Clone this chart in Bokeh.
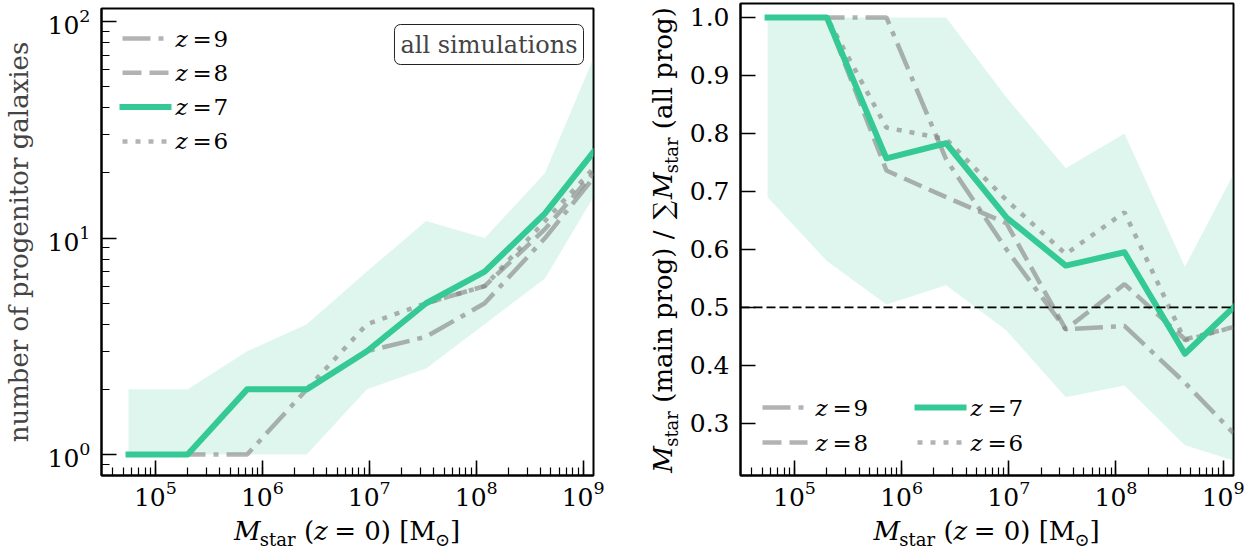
import math
from bokeh.plotting import figure
from bokeh.models import (Range1d, LogTicker, FixedTicker, PrintfTickFormatter,
                          Label, Arrow, Span)
from bokeh.layouts import row, column
from bokeh.embed import file_html
from bokeh.resources import INLINE

# ---------------- data ----------------
mstar = [5.6e4, 2.0e5, 7.2e5, 2.6e6, 9.5e6, 3.4e7, 1.2e8, 4.4e8, 1.25e9]

nprog_z9 = [1, 1, 1, 2, 3, 3.5, 5, 10, 19]
nprog_z8 = [1, 1, 2, 2, 3, 5, 6, 11, 20]
nprog_z7 = [1, 1, 2, 2, 3, 5, 7, 13, 25]
nprog_z6 = [1, 1, 2, 2, 4, 5, 6, 12, 21]
nprog_lo = [1, 1, 1, 1, 2, 2.5, 4, 6.5, 15.5]
nprog_hi = [2, 2, 3, 4, 7, 12, 10, 20, 68]

frac_z9 = [1.0, 1.0, 1.0, 0.755, 0.60, 0.462, 0.468, 0.37, 0.283]
frac_z8 = [1.0, 1.0, 0.736, 0.69, 0.645, 0.462, 0.54, 0.445, 0.466]
frac_z7 = [1.0, 1.0, 0.757, 0.783, 0.655, 0.572, 0.595, 0.42, 0.50]
frac_z6 = [1.0, 1.0, 0.81, 0.79, 0.685, 0.592, 0.664, 0.443, 0.466]
frac_lo = [0.69, 0.58, 0.505, 0.538, 0.46, 0.345, 0.365, 0.262, 0.236]
frac_hi = [1.0, 1.0, 1.0, 1.0, 0.862, 0.74, 0.80, 0.57, 0.73]

redshifts = ["9", "8", "7", "6"]
frac_ticks = [0.3, 0.4, 0.5, 0.6, 0.7, 0.8, 0.9, 1.0]
half_level = 0.5

# ---------------- style ----------------
GREEN = "#35c995"
GRAY = "#808080"
SERIF = "DejaVu Serif"
TICK_FS = "25px"
LAB_FS, SUB_FS = 26, 18
LEG_FS = 23
BOX_FS = 24
MID_MAIN = 0.35 * LAB_FS   # distance baseline -> text-box middle
MID_SUB = 0.35 * SUB_FS

STY = {
    "9": dict(line_color=GRAY, line_alpha=0.6, line_width=4.5, line_dash="28 8 5 8"),
    "8": dict(line_color=GRAY, line_alpha=0.6, line_width=4.5, line_dash="19 8"),
    "7": dict(line_color=GREEN, line_alpha=1.0, line_width=6, line_cap="square", line_join="round"),
    "6": dict(line_color=GRAY, line_alpha=0.6, line_width=4.5, line_dash="5 8"),
}

ROW_H = 514          # height of the row holding the two panels
XLAB_H = 35          # strip under the panels for the x labels
TOTAL_W = 1250


def style_axes(p):
    for ax in (p.xaxis[0], p.yaxis[0]):
        ax.axis_line_width = 2
        ax.axis_line_color = "black"
        ax.major_tick_in = 15
        ax.major_tick_out = 0
        ax.minor_tick_in = 8
        ax.minor_tick_out = 0
        ax.major_tick_line_width = 1.6
        ax.minor_tick_line_width = 1.2
        ax.major_tick_line_color = "black"
        ax.minor_tick_line_color = "black"
        ax.major_label_text_font = SERIF
        ax.major_label_text_font_size = TICK_FS
        ax.major_label_text_color = "black"
    p.xaxis[0].major_label_standoff = 5
    p.yaxis[0].major_label_standoff = 11
    p.grid.visible = False
    p.outline_line_color = "black"
    p.outline_line_width = 2
    p.outline_line_alpha = 1.0


def blank(w, h):
    f = figure(width=w, height=h, output_backend="svg", toolbar_location=None,
               x_axis_location=None, y_axis_location=None, min_border=0,
               x_range=Range1d(0, 1), y_range=Range1d(0, 1), frame_align=False)
    f.outline_line_color = None
    f.grid.visible = False
    return f


def rich(p, pieces, start, cross_main, cross_sub, vertical=False):
    """pieces: (text, size_px, style, is_subscript, advance); empty text = gap.
    Each piece is centred in its own advance box, so rotation is harmless."""
    pos = start
    for text, size, style, sub, adv in pieces:
        if text:
            c = pos + adv / 2
            cross = cross_sub if sub else cross_main
            kw = dict(text=text, x_units="screen", y_units="screen",
                      text_font=SERIF, text_font_size=f"{size}px",
                      text_font_style=style, text_color="black",
                      text_align="center", text_baseline="middle")
            if vertical:
                p.add_layout(Label(x=cross, y=c, angle=math.pi / 2, **kw))
            else:
                p.add_layout(Label(x=c, y=cross, **kw))
        pos += adv


XPIECES = [
    ("M", LAB_FS, "italic", False, 25.0),
    ("star", SUB_FS, "normal", True, 35.8),
    ("", 0, "", False, 8.3),
    ("(", LAB_FS, "normal", False, 10.1),
    ("z", LAB_FS, "italic", False, 13.7),
    ("", 0, "", False, 7.5),
    ("= 0) [M", LAB_FS, "normal", False, 99.8),
    ("\u2299", SUB_FS, "normal", True, 15.1),
    ("]", LAB_FS, "normal", False, 10.1),
]

YPIECES = [
    ("M", LAB_FS, "italic", False, 25.0),
    ("star", SUB_FS, "normal", True, 35.8),
    ("", 0, "", False, 8.3),
    ("(main prog) /", LAB_FS, "normal", False, 172.2),
    ("", 0, "", False, 8.3),
    ("\u2211", LAB_FS, "normal", False, 24.0),
    ("M", LAB_FS, "italic", False, 25.0),
    ("star", SUB_FS, "normal", True, 35.8),
    ("", 0, "", False, 8.3),
    ("(all prog)", LAB_FS, "normal", False, 122.0),
]


def legend_entry(p, key, x0, x1, yc, xt):
    st = dict(STY[key])
    st.pop("line_join", None)
    p.add_layout(Arrow(x_start=x0, y_start=yc, x_end=x1, y_end=yc,
                       start_units="screen", end_units="screen",
                       start=None, end=None, **st))
    for txt, dx, style in (("z", 0, "italic"), ("=", 17, "normal"), (key, 38, "normal")):
        p.add_layout(Label(x=xt + dx, y=yc, x_units="screen", y_units="screen",
                           text=txt, text_font=SERIF, text_font_size=f"{LEG_FS}px",
                           text_font_style=style, text_color="black",
                           text_align="left", text_baseline="middle"))


# ---------------- left panel ----------------
YL1_W = 40
W1, FW1, BL1 = 580, 492, 61
TOP1 = 8
FH1 = 467
p1 = figure(width=W1, height=ROW_H, x_axis_type="log", y_axis_type="log",
            x_range=Range1d(3.13e4, 1.25e9), y_range=Range1d(0.8, 115),
            output_backend="svg", toolbar_location=None, frame_align=False,
            min_border_left=BL1, min_border_right=W1 - BL1 - FW1,
            min_border_top=TOP1, min_border_bottom=ROW_H - TOP1 - FH1)
p1.xaxis.ticker = LogTicker(num_minor_ticks=10)
p1.yaxis.ticker = LogTicker(num_minor_ticks=10)
style_axes(p1)

p1.varea(x=mstar, y1=nprog_lo, y2=nprog_hi, fill_color=GREEN, fill_alpha=0.16)
for key, ys in (("9", nprog_z9), ("8", nprog_z8), ("6", nprog_z6), ("7", nprog_z7)):
    p1.line(mstar, ys, **STY[key])

for i, key in enumerate(redshifts):
    legend_entry(p1, key, 21, 67, FH1 - 30 - 34.3 * i, 74)

p1.add_layout(Label(x=FW1 - 10, y=FH1 - 16, x_units="screen", y_units="screen",
                    text="all simulations", text_font=SERIF,
                    text_font_size=f"{BOX_FS}px", text_align="right",
                    text_baseline="top", padding=6, border_radius=6,
                    background_fill_color="white", border_line_color="#222222",
                    border_line_width=1))

# left y label strip (baseline at page x = 28)
yl1 = blank(YL1_W, ROW_H)
yl1.add_layout(Label(x=28 - MID_MAIN, y=ROW_H - (TOP1 + FH1 / 2),
                     x_units="screen", y_units="screen",
                     angle=math.pi / 2, text="number of progenitor galaxies",
                     text_font=SERIF, text_font_size=f"{LAB_FS}px",
                     text_align="center", text_baseline="middle"))

# ---------------- right panel ----------------
YL2_W = 64
W2, FW2, BL2 = 566, 493, 56
TOP2 = 3
FH2 = 472
p2 = figure(width=W2, height=ROW_H, x_axis_type="log",
            x_range=Range1d(3.13e4, 1.25e9), y_range=Range1d(0.21, 1.024),
            output_backend="svg", toolbar_location=None, frame_align=False,
            min_border_left=BL2, min_border_right=W2 - BL2 - FW2,
            min_border_top=TOP2, min_border_bottom=ROW_H - TOP2 - FH2)
p2.xaxis.ticker = LogTicker(num_minor_ticks=10)
p2.yaxis.ticker = FixedTicker(ticks=frac_ticks, minor_ticks=[])
p2.yaxis.formatter = PrintfTickFormatter(format="%.1f")
style_axes(p2)

p2.varea(x=mstar, y1=frac_lo, y2=frac_hi, fill_color=GREEN, fill_alpha=0.16)
for key, ys in (("9", frac_z9), ("8", frac_z8), ("6", frac_z6), ("7", frac_z7)):
    p2.line(mstar, ys, **STY[key])
p2.add_layout(Span(location=half_level, dimension="width", line_color="black",
                   line_width=1.6, line_dash="9 4"))

legend_entry(p2, "9", 22, 67, 68, 75)
legend_entry(p2, "8", 22, 67, 33, 75)
legend_entry(p2, "7", 177, 223, 68, 230)
legend_entry(p2, "6", 177, 223, 33, 230)

# right y label strip (baseline at page x = 672)
yl2 = blank(YL2_W, ROW_H)
ytot = sum(pc[4] for pc in YPIECES)
base_x = 672 - (YL1_W + W1)
rich(yl2, YPIECES, ROW_H - (TOP2 + FH2 / 2) - ytot / 2,
     base_x - MID_MAIN, base_x + 5 - MID_SUB, vertical=True)

# ---------------- x label strip (baseline at page y = 540) ----------------
xl = blank(TOTAL_W, XLAB_H)
xtot = sum(pc[4] for pc in XPIECES)
base_y = (ROW_H + XLAB_H) - 540
c1 = YL1_W + BL1 + FW1 / 2
c2 = YL1_W + W1 + YL2_W + BL2 + FW2 / 2
rich(xl, XPIECES, c1 - xtot / 2, base_y + MID_MAIN, base_y - 5 + MID_SUB)
rich(xl, XPIECES, c2 - xtot / 2, base_y + MID_MAIN, base_y - 5 + MID_SUB)

layout = column(row(yl1, p1, yl2, p2, spacing=0), xl, spacing=0)
open("out.html", "w").write(file_html(layout, INLINE))
